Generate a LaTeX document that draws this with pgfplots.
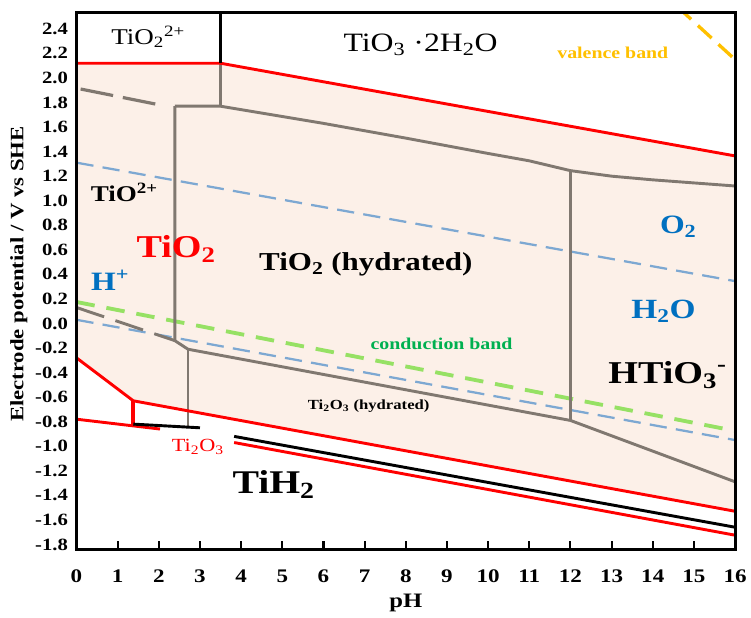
\documentclass[border=0pt]{standalone}
\usepackage{fontspec}
\setmainfont{Liberation Serif}[FakeStretch=1.2]
\usepackage{pgfplots}
\pgfplotsset{compat=1.18}
\definecolor{fillc}{RGB}{252,240,232}
\definecolor{grayl}{RGB}{128,120,112}
\definecolor{bluel}{RGB}{125,168,210}
\definecolor{bluet}{RGB}{0,112,192}
\definecolor{greenl}{RGB}{150,225,100}
\definecolor{greent}{RGB}{0,176,80}
\definecolor{orangel}{RGB}{255,192,0}
\definecolor{redl}{RGB}{255,0,0}
\newcommand{\fs}[1]{\fontsize{#1}{#1}\selectfont}
\begin{document}
\begin{tikzpicture}
\begin{axis}[name=ax, scale only axis, width=497.25pt, height=405pt,
  xmin=0, xmax=16, ymin=-1.84, ymax=2.53,
  xtick={0,1,...,16},
  ytick={-1.8,-1.6,-1.4,-1.2,-1,-0.8,-0.6,-0.4,-0.2,0,0.2,0.4,0.6,0.8,1,1.2,1.4,1.6,1.8,2,2.2,2.4},
  /pgf/number format/assume math mode=true,
  xticklabel style={font=\bfseries\fs{14.5}, yshift=-12pt},
  yticklabel style={font=\bfseries\fs{13}, xshift=-3pt, /pgf/number format/.cd, fixed, fixed zerofill, precision=1},
  axis line style={line width=2.2pt},
  tick pos=left, tick align=inside, major tick length=6pt,
  xtick style={line width=1.6pt, black},
  ytick style={draw=none},
  axis on top=true,
  xlabel={pH}, ylabel={Electrode\ potential / V vs SHE},
  xlabel style={font=\bfseries\fs{15.5}, at={(axis description cs:0.5,-0.109)}, anchor=base},
  ylabel style={font=\bfseries\fs{14.3}, at={(axis description cs:-0.0875,0.513)}, anchor=center},
]
\addplot[draw=none, fill=fillc] coordinates {(0,2.12)(3.5,2.12)(16,1.365)(16,-1.53)(1.38,-0.63)(0,-0.28)} -- cycle;
% water and band lines
\addplot[bluel, line width=1.7pt, dash pattern=on 13pt off 7pt] coordinates {(0,1.31)(16,0.345)};
\addplot[bluel, line width=1.7pt, dash pattern=on 13pt off 7pt] coordinates {(0,0.03)(16,-0.95)};
\addplot[greenl, line width=2.9pt, dash pattern=on 14pt off 9pt] coordinates {(0,0.175)(16,-0.875)};
\addplot[orangel, line width=2.5pt, dash pattern=on 14pt off 7pt] coordinates {(14.6,2.58)(16,2.15)};
% gray boundaries
\addplot[grayl, line width=2.2pt] coordinates {(3.5,2.12)(3.5,1.77)};
\addplot[grayl, line width=2.2pt] coordinates {(2.39,1.77)(3.5,1.77)(6,1.63)(8,1.51)(10,1.385)(11,1.325)(12,1.245)(13,1.2)(14,1.17)(15,1.145)(16,1.12)};
\addplot[grayl, line width=2.2pt] coordinates {(2.39,1.77)(2.39,-0.14)(2.71,-0.21)(12,-0.79)(16,-1.29)};
\addplot[grayl, line width=2.2pt] coordinates {(2.71,-0.21)(2.71,-0.84)};
\addplot[grayl, line width=2.2pt] coordinates {(12,1.245)(12,-0.79)};
\addplot[grayl, line width=2.4pt, dash pattern=on 25pt off 7.5pt] coordinates {(0.1,1.91)(2.03,1.78)};
\addplot[grayl, line width=2.2pt, dash pattern=on 22pt off 9pt] coordinates {(0,0.13)(2.39,-0.14)};
% red and black boundaries
\addplot[redl, line width=2.2pt] coordinates {(0,2.12)(3.5,2.12)(16,1.365)};
\addplot[black, line width=2.5pt] coordinates {(3.5,2.12)(3.5,2.53)};
\addplot[redl, line width=2.2pt] coordinates {(0,-0.28)(1.38,-0.63)(16,-1.53)};
\addplot[redl, line width=3.2pt] coordinates {(1.38,-0.63)(1.38,-0.83)};
\addplot[redl, line width=2.2pt] coordinates {(0,-0.78)(2.03,-0.86)};
\addplot[black, line width=2.2pt] coordinates {(1.38,-0.82)(3.0,-0.85)};
\addplot[black, line width=2.2pt] coordinates {(3.83,-0.92)(16,-1.66)};
\addplot[redl, line width=2.2pt] coordinates {(3.83,-0.97)(16,-1.725)};
% labels
\node[font=\fs{17}] at (1.74,2.335) {TiO\textsubscript{2}\textsuperscript{2+}};
\node[font=\fs{20}] at (8.36,2.27) {TiO\textsubscript{3} ·2H\textsubscript{2}O};
\node[font=\bfseries\fs{12.5}, text=orangel] at (13.03,2.206) {valence band};
\node[font=\bfseries\fs{17}] at (1.16,1.07) {TiO\textsuperscript{2+}};
\node[font=\bfseries\fs{24}, text=redl] at (2.42,0.61) {TiO\textsubscript{2}};
\node[font=\bfseries\fs{19.5}] at (7.03,0.48) {TiO\textsubscript{2} (hydrated)};
\node[font=\bfseries\fs{20}, text=bluet] at (0.82,0.35) {H\textsuperscript{+}};
\node[font=\bfseries\fs{20}, text=bluet] at (14.62,0.79) {O\textsubscript{2}};
\node[font=\bfseries\fs{21}, text=bluet] at (14.26,0.10) {H\textsubscript{2}O};
\node[font=\bfseries\fs{24}] at (14.36,-0.42) {HTiO\textsubscript{3}\textsuperscript{-}};
\node[font=\bfseries\fs{12.5}, text=greent] at (8.87,-0.17) {conduction band};
\node[font=\bfseries\fs{10.5}] at (7.1,-0.674) {Ti\textsubscript{2}O\textsubscript{3} (hydrated)};
\node[font=\fs{14}, text=redl] at (2.95,-1.006) {Ti\textsubscript{2}O\textsubscript{3}};
\node[font=\bfseries\fs{25}] at (4.79,-1.31) {TiH\textsubscript{2}};
\end{axis}
\path ([xshift=-57.75pt,yshift=-51.75pt]ax.south west) rectangle ([xshift=8.25pt,yshift=9.75pt]ax.north east);
\end{tikzpicture}
\end{document}
